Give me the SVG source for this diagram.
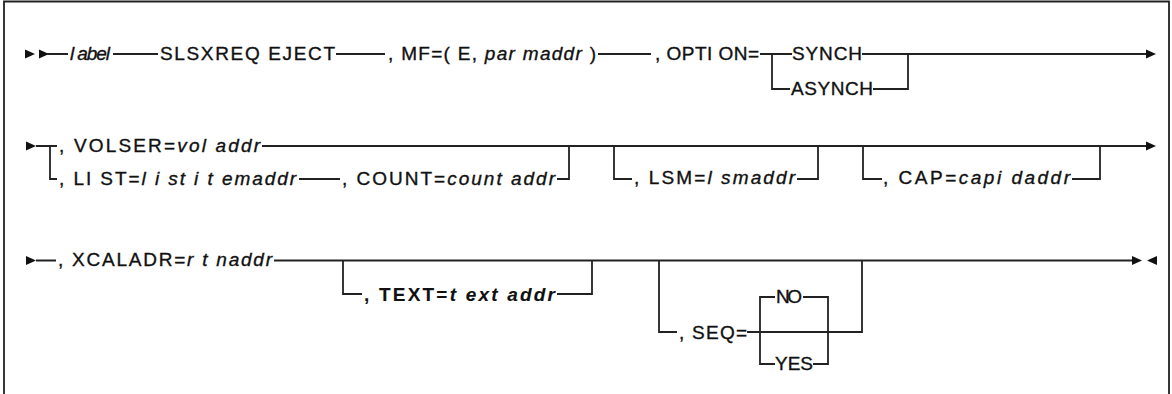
<svg xmlns="http://www.w3.org/2000/svg" xmlns:xlink="http://www.w3.org/1999/xlink" width="1172" height="394" viewBox="0 0 1172 394">
<style>
.ln{fill:none;stroke:#222;stroke-width:1.8}
.t{font-family:"Liberation Sans",Arial,sans-serif;font-size:19px;fill:#111;stroke:#111;stroke-width:0.35}
.b{font-weight:bold;stroke-width:0.1}
.i{font-style:italic}
.frame{fill:none;stroke:#222;stroke-width:1.8}
</style>
<defs>
<path id="ar" d="M0,-4.5 L10,0 L0,4.5 Z" fill="#111"/>
<path id="al" d="M10,-4.5 L0,0 L10,4.5 Z" fill="#111"/>
</defs>
<rect x="0" y="0" width="1172" height="394" fill="#fff"/>
<path class="frame" d="M4,394 V1.5 H1169 V394"/>
<g id="connectors">
<use xlink:href="#ar" x="25" y="54"/>
<use xlink:href="#ar" x="39" y="54"/>
<path class="ln" d="M47,54 H68 M113,54 H158 M336,54 H385 M598,54 H651 M760,54 H792 M862,54 H1146"/>
<path class="ln" d="M772,54 V89 H790 M873,89 H908 V54"/>
<use xlink:href="#ar" x="1146" y="54"/>
<use xlink:href="#ar" x="26" y="146"/>
<path class="ln" d="M36,146 H57 M262,146 H1146 M50,146 V179 H57 M299,179 H340 M557,179 H569 V146 M614,146 V179 H632 M797,179 H818 V146 M863,146 V179 H882 M1072,179 H1100 V146"/>
<use xlink:href="#ar" x="1146" y="146"/>
<use xlink:href="#ar" x="26" y="260.5"/>
<path class="ln" d="M36,260.5 H56 M274,260.5 H1133 M343,260.5 V294 H362 M557,294 H592 V260.5 M659,260.5 V332 H677 M747,332 H862 V260.5 M775,297 H760 V364 H775 M803,297 H828 V364 H813"/>
<use xlink:href="#ar" x="1132" y="260.5"/>
<use xlink:href="#al" x="1147" y="260.5"/>
</g>
<g id="n-label"><text class="t i" x="70" y="60" textLength="40">l abel</text></g>
<g id="n-slsxreq"><text class="t" x="160" y="60" textLength="175">SLSXREQ EJECT</text></g>
<g id="n-mf"><text class="t" x="388" y="60" textLength="208">, MF=( E, <tspan class="i">par maddr</tspan> )</text></g>
<g id="n-option"><text class="t" x="655" y="60" textLength="104">, OPTI ON=</text></g>
<g id="n-synch"><text class="t" x="792" y="60" textLength="70">SYNCH</text></g>
<g id="n-asynch"><text class="t" x="791" y="95" textLength="82">ASYNCH</text></g>
<g id="n-volser"><text class="t" x="59" y="152" textLength="201">, VOLSER=<tspan class="i">vol addr</tspan></text></g>
<g id="n-list"><text class="t" x="59" y="185" textLength="237">, LI ST=<tspan class="i">l i st i t emaddr</tspan></text></g>
<g id="n-count"><text class="t" x="342" y="185" textLength="213">, COUNT=<tspan class="i">count addr</tspan></text></g>
<g id="n-lsm"><text class="t" x="634" y="184" textLength="161">, LSM=<tspan class="i">l smaddr</tspan></text></g>
<g id="n-cap"><text class="t" x="883" y="184" textLength="187">, CAP=<tspan class="i">capi daddr</tspan></text></g>
<g id="n-xcaladr"><text class="t" x="58" y="266" textLength="214">, XCALADR=<tspan class="i">r t naddr</tspan></text></g>
<g id="n-text"><text class="t b" x="364" y="301" textLength="191">, TEXT=<tspan class="i">t ext addr</tspan></text></g>
<g id="n-seq"><text class="t" x="679" y="339" textLength="68">, SEQ=</text></g>
<g id="n-no"><text class="t" x="776" y="303" textLength="26">NO</text></g>
<g id="n-yes"><text class="t" x="775" y="370" textLength="38">YES</text></g>
</svg>
